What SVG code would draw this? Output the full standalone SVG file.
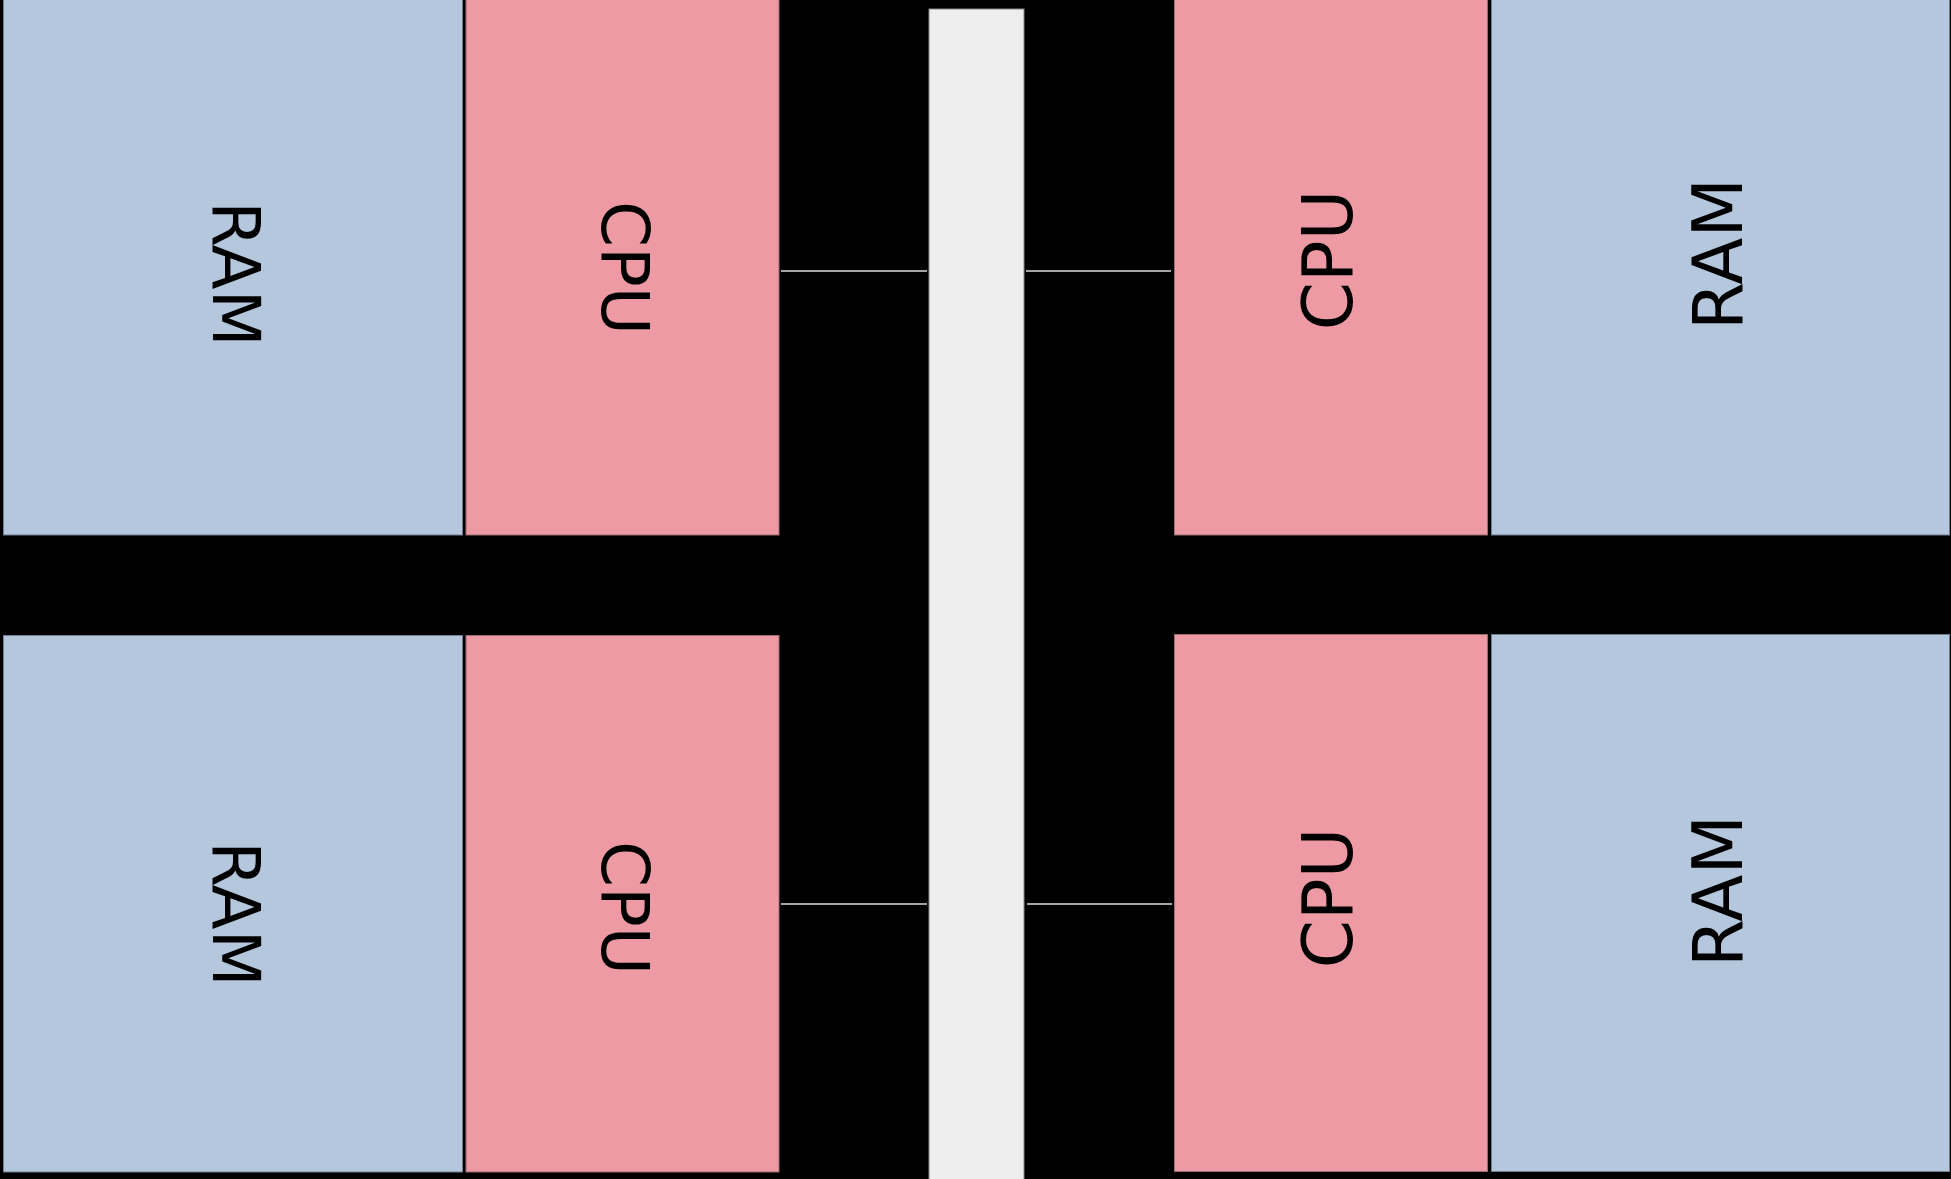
<svg xmlns="http://www.w3.org/2000/svg" width="1951" height="1179" viewBox="0 0 1951 1179">
<style>
.ram{fill:#b4c7dd;stroke:#6f7d90;stroke-width:1}
.cpu{fill:#ed9aa4;stroke:#9a6a70;stroke-width:1}
.bus{fill:#eeeeee;stroke:#888888;stroke-width:1}
.lbl{font-family:"DejaVu Sans",sans-serif;font-size:66px;fill:#000;text-anchor:middle}
.lbr{font-size:69px}
.link{stroke:#dddddd;stroke-width:1.6;fill:none}
</style>
<rect x="0" y="0" width="1951" height="1179" fill="#000"/>
<g id="bus"><rect class="bus" x="929" y="9" width="95" height="1175"/></g>
<g id="ram-tl"><rect class="ram" x="3.5" y="-2" width="459" height="537"/><text class="lbl" transform="translate(237,274) rotate(90)" x="0" y="24">RAM</text></g>
<g id="cpu-tl"><rect class="cpu" x="466" y="-2" width="313" height="537"/><text class="lbl" transform="translate(626,268) rotate(90)" x="0" y="24">CPU</text></g>
<g id="ram-bl"><rect class="ram" x="3.5" y="635.5" width="459" height="536.5"/><text class="lbl" transform="translate(237,914) rotate(90)" x="0" y="24">RAM</text></g>
<g id="cpu-bl"><rect class="cpu" x="466" y="635.5" width="313" height="536.5"/><text class="lbl" transform="translate(626,908) rotate(90)" x="0" y="24">CPU</text></g>
<g id="cpu-tr"><rect class="cpu" x="1174.5" y="-2" width="313" height="537"/><text class="lbl lbr" transform="translate(1327,260) rotate(-90)" x="0" y="25">CPU</text></g>
<g id="ram-tr"><rect class="ram" x="1491.5" y="-2" width="458" height="537"/><text class="lbl lbr" transform="translate(1717,254) rotate(-90)" x="0" y="25">RAM</text></g>
<g id="cpu-br"><rect class="cpu" x="1174.5" y="634.5" width="313" height="537"/><text class="lbl lbr" transform="translate(1327,898) rotate(-90)" x="0" y="25">CPU</text></g>
<g id="ram-br"><rect class="ram" x="1491.5" y="634.5" width="458" height="537"/><text class="lbl lbr" transform="translate(1717,891) rotate(-90)" x="0" y="25">RAM</text></g>
<g id="connectors">
<line class="link" x1="781" y1="271" x2="927" y2="271"/>
<line class="link" x1="1026" y1="271" x2="1171" y2="271"/>
<line class="link" x1="781" y1="904" x2="927" y2="904"/>
<line class="link" x1="1027" y1="904" x2="1172" y2="904"/>
</g>
</svg>
